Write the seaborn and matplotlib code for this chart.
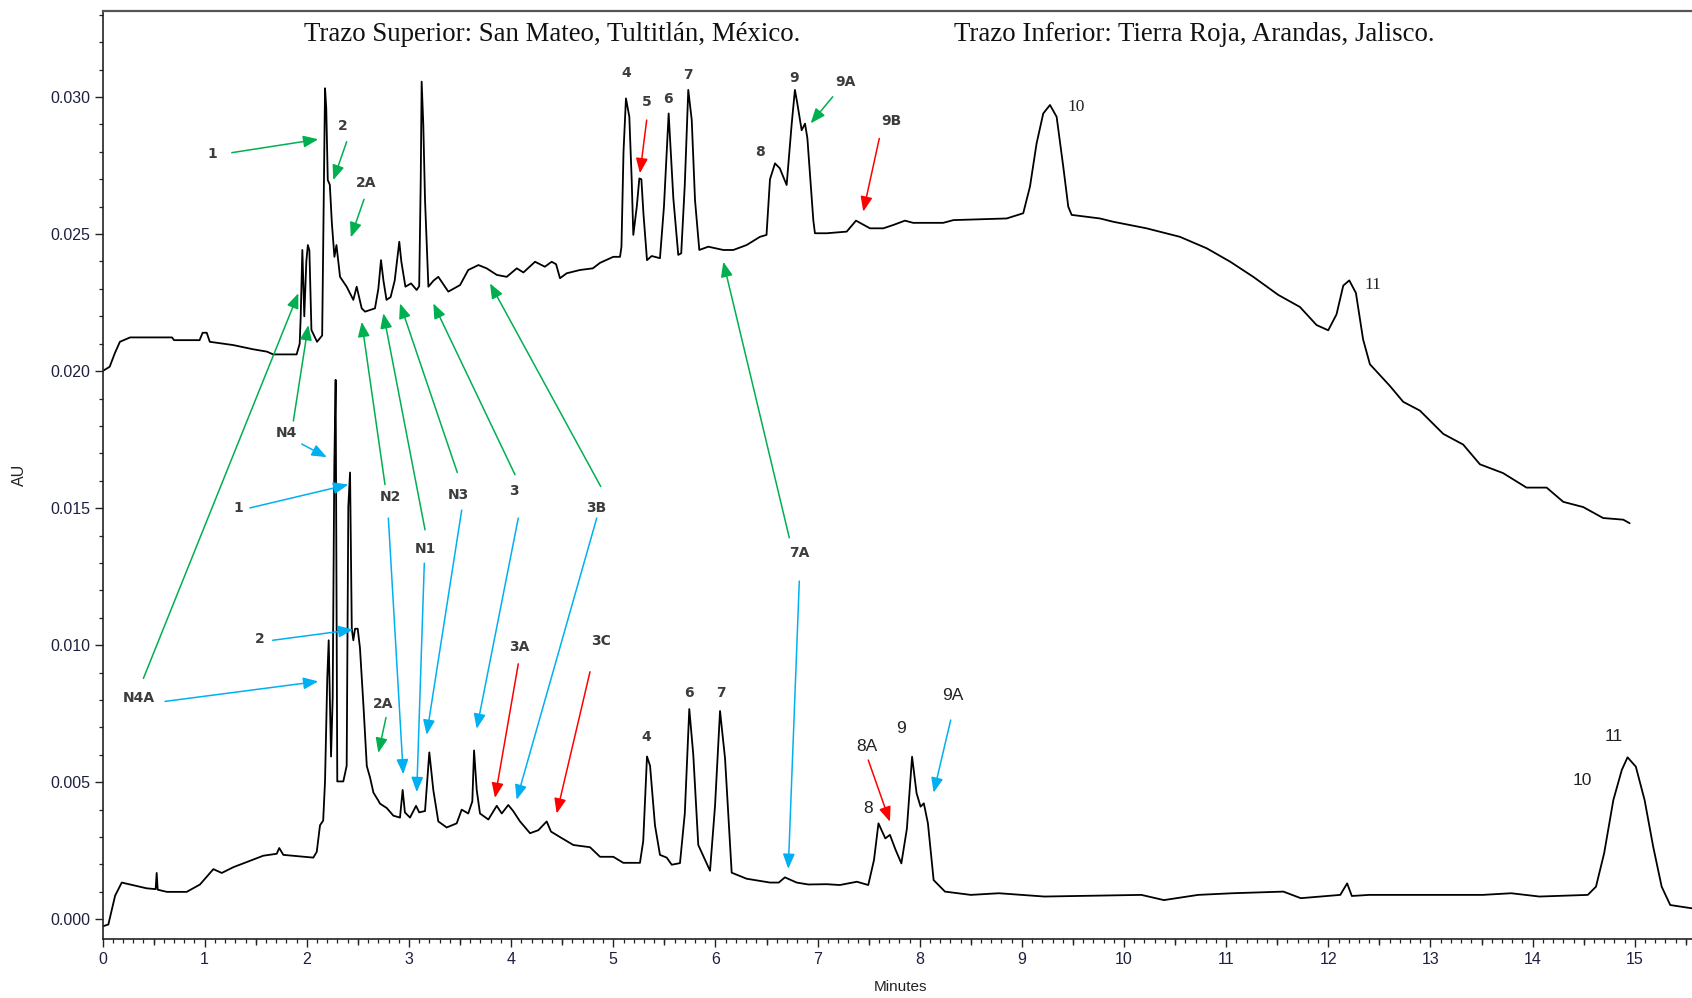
import matplotlib
matplotlib.use("Agg")
import matplotlib.pyplot as plt
import pandas as pd
import seaborn as sns
from matplotlib.ticker import MultipleLocator, FixedLocator, FormatStrFormatter

sns.set_theme(style="ticks")
plt.rcParams["font.family"] = ["Liberation Sans", "DejaVu Sans"]

# Upper trace: San Mateo, Tultitlán
top_minutes = [
    0.00, 0.07, 0.12, 0.17, 0.27, 0.68, 0.70, 0.95, 0.98, 1.02, 1.05, 1.28, 1.47, 1.61, 1.67, 1.90,
    1.93, 1.940, 1.956, 1.975, 1.995, 2.010, 2.025, 2.045, 2.10, 2.15, 2.165, 2.178, 2.19, 2.205,
    2.225, 2.245, 2.27, 2.29, 2.325, 2.39, 2.455, 2.488, 2.537, 2.57, 2.667, 2.70, 2.726, 2.75,
    2.78, 2.82, 2.86, 2.905, 2.925, 2.965, 3.02, 3.075, 3.10, 3.115, 3.124, 3.140, 3.157, 3.19,
    3.24, 3.287, 3.385, 3.50, 3.58, 3.68, 3.76, 3.86, 3.957, 4.055, 4.12, 4.234, 4.33, 4.397,
    4.44, 4.478, 4.544, 4.674, 4.80, 4.87, 5.00, 5.066, 5.08, 5.10, 5.124, 5.157, 5.18, 5.196,
    5.23, 5.255, 5.275, 5.295, 5.33, 5.376, 5.457, 5.496, 5.542, 5.588, 5.636, 5.665, 5.70,
    5.734, 5.768, 5.80, 5.842, 5.93, 6.077, 6.175, 6.305, 6.436, 6.50, 6.534, 6.583, 6.63,
    6.697, 6.746, 6.778, 6.80, 6.844, 6.877, 6.90, 6.958, 6.974, 7.09, 7.285, 7.376, 7.513,
    7.643, 7.74, 7.855, 7.936, 8.23, 8.33, 8.851, 9.013, 9.079, 9.144, 9.209, 9.275, 9.34,
    9.405, 9.454, 9.487, 9.764, 9.894, 10.22, 10.547, 10.81, 11.04, 11.265, 11.51, 11.722,
    11.885, 11.999, 12.08, 12.146, 12.205, 12.27, 12.34, 12.407, 12.60, 12.733, 12.896, 13.125,
    13.32, 13.484, 13.71, 13.94, 14.137, 14.30, 14.495, 14.69, 14.887, 14.95,
]
top_au = [
    0.02000, 0.02016, 0.02065, 0.02107, 0.02123, 0.02123, 0.02113, 0.02113, 0.02140, 0.02140,
    0.02107, 0.02095, 0.02080, 0.02071, 0.02061, 0.02061,
    0.02100, 0.02200, 0.02442, 0.02200, 0.02400, 0.02460, 0.02440, 0.02150, 0.02107, 0.02130,
    0.02600, 0.03032, 0.02960, 0.02697,
    0.02680, 0.02540, 0.02417, 0.02460, 0.02344, 0.02308, 0.02260, 0.02308, 0.02229, 0.02217,
    0.02229, 0.02300, 0.02405, 0.02330,
    0.02260, 0.02270, 0.02330, 0.02472, 0.02400, 0.02308, 0.02320, 0.02296, 0.02310, 0.02700,
    0.03056, 0.02900, 0.02624, 0.02308,
    0.02330, 0.02344, 0.02290, 0.02314, 0.02369, 0.02387, 0.02375, 0.02351, 0.02344, 0.02375,
    0.02360, 0.02399, 0.02381, 0.02399,
    0.02390, 0.02339, 0.02357, 0.02369, 0.02375, 0.02395, 0.02417, 0.02417, 0.02454, 0.02800,
    0.02995, 0.02928, 0.02700, 0.02497,
    0.02600, 0.02703, 0.02700, 0.02576, 0.02405, 0.02420, 0.02412, 0.02600, 0.02940, 0.02630,
    0.02424, 0.02430, 0.02680,
    0.03026, 0.02916, 0.02624, 0.02442, 0.02454, 0.02442, 0.02442, 0.02460, 0.02490, 0.02497,
    0.02700, 0.02758, 0.02740,
    0.02679, 0.02900, 0.03026, 0.02980, 0.02879, 0.02903, 0.02850, 0.02551, 0.02503, 0.02503,
    0.02509, 0.02549, 0.02521,
    0.02521, 0.02533, 0.02549, 0.02541, 0.02541, 0.02551, 0.02557, 0.02576, 0.02673, 0.02831,
    0.02940, 0.02971, 0.02928,
    0.02746, 0.02600, 0.02570, 0.02557, 0.02545, 0.02521, 0.02490, 0.02448, 0.02399, 0.02344,
    0.02278, 0.02234,
    0.02168, 0.02149, 0.02207, 0.02312, 0.02331, 0.02285, 0.02116, 0.02025, 0.01947, 0.01888,
    0.01856, 0.01771,
    0.01732, 0.01660, 0.01628, 0.01575, 0.01575, 0.01523, 0.01504, 0.01464, 0.01458, 0.01445,
]

# Lower trace: Tierra Roja, Arandas
bottom_minutes = [
    0.00, 0.057, 0.123, 0.188, 0.269, 0.432, 0.52, 0.53, 0.54, 0.63, 0.824, 0.954, 1.085, 1.167,
    1.28, 1.476, 1.574, 1.705, 1.73, 1.77, 2.063, 2.097, 2.129, 2.16, 2.178, 2.20, 2.214, 2.237,
    2.253, 2.269, 2.282, 2.298, 2.357, 2.39, 2.406, 2.423, 2.44, 2.455, 2.472, 2.498, 2.52,
    2.554, 2.587, 2.619, 2.652, 2.70, 2.716, 2.782, 2.847, 2.912, 2.938, 2.96, 3.01, 3.069,
    3.10, 3.157, 3.199, 3.238, 3.287, 3.369, 3.467, 3.516, 3.58, 3.62, 3.637, 3.663, 3.695,
    3.777, 3.82, 3.859, 3.908, 3.972, 4.02, 4.087, 4.185, 4.266, 4.348, 4.39, 4.478, 4.609,
    4.772, 4.87, 5.00, 5.098, 5.261, 5.293, 5.33, 5.36, 5.408, 5.457, 5.523, 5.572, 5.653,
    5.70, 5.744, 5.783, 5.832, 5.947, 5.996, 6.045, 6.094, 6.159, 6.305, 6.534, 6.62, 6.68,
    6.795, 6.909, 7.09, 7.217, 7.385, 7.496, 7.552, 7.596, 7.663, 7.708, 7.764, 7.82, 7.874,
    7.925, 7.969, 8.008, 8.04, 8.08, 8.136, 8.247, 8.50, 8.775, 9.22, 10.17, 10.39, 10.725,
    11.06, 11.56, 11.73, 12.117, 12.184, 12.23, 12.40, 13.51, 13.79, 14.066, 14.54, 14.62,
    14.70, 14.79, 14.873, 14.929, 15.01, 15.096, 15.18, 15.263, 15.347, 15.56,
]
bottom_au = [
    -0.00026, -0.00019, 0.00086, 0.00134, 0.00127, 0.00113, 0.00110, 0.00169, 0.00108, 0.00100,
    0.00100, 0.00127, 0.00183, 0.00169,
    0.00190, 0.00218, 0.00232, 0.00239, 0.00260, 0.00235, 0.00225, 0.00246, 0.00343, 0.00360,
    0.00503, 0.00879, 0.01018, 0.00594,
    0.00809, 0.01658, 0.01968, 0.00503, 0.00503, 0.00560, 0.01505, 0.01630, 0.01060, 0.01018,
    0.01060, 0.01060, 0.00990,
    0.00781, 0.00559, 0.00517, 0.00462, 0.00433, 0.00422, 0.00406, 0.00378, 0.00371, 0.00472,
    0.00390, 0.00371, 0.00414,
    0.00390, 0.00395, 0.00609, 0.00472, 0.00357, 0.00335, 0.00350, 0.00400, 0.00386, 0.00430,
    0.00616, 0.00472, 0.00386,
    0.00364, 0.00390, 0.00414, 0.00386, 0.00417, 0.00395, 0.00357, 0.00314, 0.00325, 0.00357,
    0.00320, 0.00300, 0.00271,
    0.00263, 0.00228, 0.00228, 0.00206, 0.00206, 0.00285, 0.00594, 0.00560, 0.00343, 0.00235,
    0.00225, 0.00199, 0.00205,
    0.00386, 0.00767, 0.00601, 0.00271, 0.00177, 0.00414, 0.00760, 0.00587, 0.00170, 0.00148,
    0.00134, 0.00134, 0.00153,
    0.00134, 0.00127, 0.00128, 0.00125, 0.00137, 0.00125, 0.00216, 0.00350, 0.00295, 0.00308,
    0.00253, 0.00204, 0.00330,
    0.00593, 0.00460, 0.00411, 0.00423, 0.00350, 0.00143, 0.00101, 0.00089, 0.00095, 0.00083,
    0.00089, 0.00070, 0.00089,
    0.00095, 0.00101, 0.00077, 0.00089, 0.00131, 0.00085, 0.00089, 0.00089, 0.00095, 0.00083,
    0.00089, 0.00119,
    0.00241, 0.00435, 0.00545, 0.00591, 0.00557, 0.00435, 0.00265, 0.00119, 0.00052, 0.00040,
]

x_ticks = list(range(0, 16))
y_ticks = [0.000, 0.005, 0.010, 0.015, 0.020, 0.025, 0.030]

title_upper = "Trazo Superior: San Mateo, Tultitlán, México."
title_lower = "Trazo Inferior: Tierra Roja, Arandas, Jalisco."

upper = pd.DataFrame({"Minutes": top_minutes, "AU": top_au})
lower = pd.DataFrame({"Minutes": bottom_minutes, "AU": bottom_au})

fig = plt.figure(figsize=(16.92, 9.98), dpi=100)
ax = fig.add_axes([0.0606, 0.0591, 0.9394, 0.9299])

sns.lineplot(data=upper, x="Minutes", y="AU", ax=ax, color="black", lw=1.3, sort=False, estimator=None)
sns.lineplot(data=lower, x="Minutes", y="AU", ax=ax, color="black", lw=1.3, sort=False, estimator=None)

ax.set_xlim(0, 15.56)
ax.set_ylim(-0.00072, 0.03314)
ax.set_xlabel("")
ax.set_ylabel("")

# axes frame
for side in ("left", "bottom"):
    ax.spines[side].set_color("#222222")
    ax.spines[side].set_linewidth(1.2)
ax.spines["top"].set_visible(True)
ax.spines["top"].set_color("#555555")
ax.spines["top"].set_linewidth(1.6)
ax.spines["right"].set_visible(False)

tick_color = "#1e2040"
ax.xaxis.set_major_locator(FixedLocator(x_ticks))
ax.xaxis.set_minor_locator(MultipleLocator(0.1))
ax.yaxis.set_major_locator(FixedLocator(y_ticks))
ax.yaxis.set_minor_locator(MultipleLocator(0.001))
ax.yaxis.set_major_formatter(FormatStrFormatter("%.3f"))
ax.tick_params(axis="both", which="major", direction="out", length=6, width=1.0,
               color="#222222", labelsize=11.5, labelcolor=tick_color)
ax.tick_params(axis="both", which="minor", direction="out", length=3, width=0.9, color="#222222")
ax.tick_params(axis="x", which="major", pad=3)
ax.tick_params(axis="y", which="major", pad=3)
ax.tick_params(top=False, right=False, which="both")

# medium ticks on the half minutes (twin shares the y axis, so only x is touched)
half = ax.twiny()
half.set_xlim(ax.get_xlim())
half.xaxis.set_ticks_position("bottom")
half.set_xticks([h + 0.5 for h in x_ticks])
half.tick_params(axis="x", which="major", direction="out", length=4.5, width=1.0,
                 color="#222222", labelbottom=False, labeltop=False)
for s in half.spines.values():
    s.set_visible(False)

fig.text(0.0115, 0.524, "AU", rotation=90, ha="center", va="center", fontsize=11.5, color="#222222")
fig.text(0.5325, 0.011, "Minutes", ha="center", va="center", fontsize=11, color="#222222")

serif = ["Liberation Serif", "DejaVu Serif"]
ax.text(4.40, 0.03228, title_upper, family=serif, fontsize=19.4, ha="center", va="center", color="#111111")
ax.text(10.69, 0.03228, title_lower, family=serif, fontsize=19.4, ha="center", va="center", color="#111111")

bold = dict(fontsize=10, fontweight="bold", color="#3c3c3c", family=["DejaVu Sans"],
            ha="center", va="center")
narrow = dict(fontsize=12.5, color="#222222", family=["Liberation Sans Narrow", "Liberation Sans"],
              ha="center", va="center")
serif_lbl = dict(fontsize=12.5, color="#222222", family=serif, ha="center", va="center")

bold_labels = [
    ("1", 1.075, 0.02793), ("2", 2.351, 0.02894), ("2A", 2.576, 0.02685), ("4", 5.131, 0.03086),
    ("5", 5.327, 0.02983), ("6", 5.538, 0.02992), ("7", 5.734, 0.03080), ("8", 6.436, 0.02800),
    ("9", 6.769, 0.03068), ("9A", 7.268, 0.03056), ("9B", 7.725, 0.02914),
    ("N4", 1.796, 0.01776), ("N4A", 0.360, 0.00809), ("1", 1.329, 0.01501), ("2", 1.542, 0.01022),
    ("N2", 2.814, 0.01539), ("N1", 3.157, 0.01352), ("N3", 3.483, 0.01548), ("3", 4.028, 0.01561),
    ("3B", 4.831, 0.01501), ("7A", 6.821, 0.01335), ("2A", 2.749, 0.00785), ("3A", 4.080, 0.00993),
    ("3C", 4.877, 0.01015), ("4", 5.327, 0.00666), ("6", 5.744, 0.00827), ("7", 6.051, 0.00827),
]
for txt, x, y in bold_labels:
    ax.text(x, y, txt, **bold)

for txt, x, y in [("10", 9.529, 0.02965), ("11", 12.439, 0.02316)]:
    ax.text(x, y, txt, **serif_lbl)

for txt, x, y in [("8A", 7.484, 0.00630), ("8", 7.496, 0.00405), ("9", 7.819, 0.00697),
                  ("9A", 8.319, 0.00818), ("11", 14.790, 0.00666), ("10", 14.483, 0.00508)]:
    ax.text(x, y, txt, **narrow)

green, blue, red = "#00B050", "#00B0F0", "#FF0000"
arrows = [
    # upper trace
    ((1.265, 0.02797), (2.112, 0.02846), green),
    ((2.390, 0.02837), (2.259, 0.02697), green),
    ((2.560, 0.02627), (2.430, 0.02488), green),
    ((7.148, 0.03001), (6.932, 0.02904), green),
    ((5.327, 0.02916), (5.261, 0.02722), red),
    ((7.604, 0.02849), (7.447, 0.02582), red),
    ((1.868, 0.01818), (2.014, 0.02168), green),
    ((0.400, 0.00879), (1.917, 0.02284), green),
    ((2.765, 0.01586), (2.537, 0.02180), green),
    ((3.157, 0.01421), (2.749, 0.02211), green),
    ((3.473, 0.01630), (2.912, 0.02247), green),
    ((4.038, 0.01622), (3.238, 0.02247), green),
    ((4.877, 0.01579), (3.793, 0.02320), green),
    ((6.723, 0.01392), (6.077, 0.02399), green),
    # lower trace
    ((1.950, 0.01734), (2.195, 0.01686), blue),
    ((0.612, 0.00795), (2.112, 0.00868), blue),
    ((1.444, 0.01501), (2.406, 0.01586), blue),
    ((1.666, 0.01018), (2.455, 0.01057), blue),
    ((2.798, 0.01464), (2.944, 0.00529), blue),
    ((3.150, 0.01299), (3.076, 0.00464), blue),
    ((3.516, 0.01493), (3.173, 0.00673), blue),
    ((4.070, 0.01464), (3.663, 0.00695), blue),
    ((4.838, 0.01464), (4.054, 0.00436), blue),
    ((6.821, 0.01234), (6.713, 0.00184), blue),
    ((8.303, 0.00727), (8.136, 0.00462), blue),
    ((2.775, 0.00736), (2.700, 0.00607), green),
    ((4.070, 0.00932), (3.842, 0.00443), red),
    ((4.772, 0.00903), (4.446, 0.00386), red),
    ((7.496, 0.00581), (7.708, 0.00356), red),
]
for tail, head, col in arrows:
    ax.annotate("", xy=head, xytext=tail,
                arrowprops=dict(arrowstyle="-|>,head_length=0.5,head_width=0.2", mutation_scale=18,
                                color=col, lw=1.1, shrinkA=0, shrinkB=0))

fig.savefig("out.png", dpi=100)
